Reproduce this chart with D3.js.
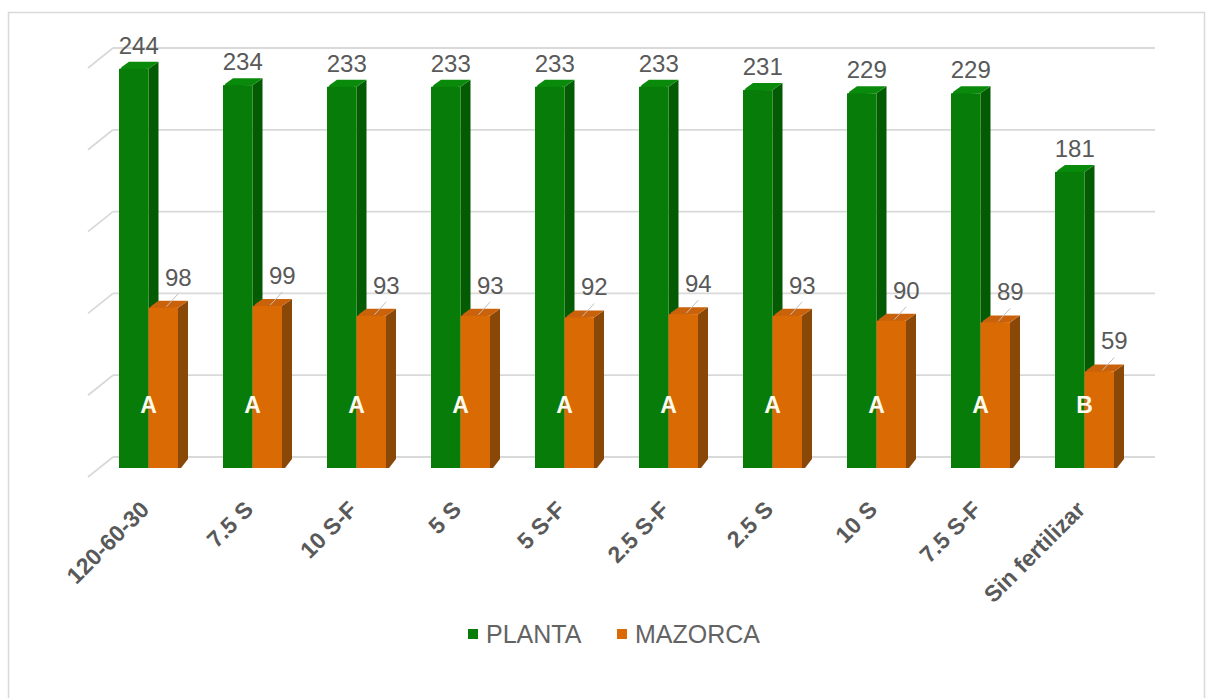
<!DOCTYPE html>
<html>
<head>
<meta charset="utf-8">
<script src="https://cdn.jsdelivr.net/npm/d3@7"></script>
<style>
  html, body { margin: 0; padding: 0; background: #fff; }
  svg { display: block; font-family: "Liberation Sans", Arial, sans-serif; }
</style>
</head>
<body>
<svg id="chart" width="1208" height="698"></svg>
<script>
// Treatments (x categories)
const categories = ["120-60-30", "7.5 S", "10 S-F", "5 S", "5 S-F", "2.5 S-F", "2.5 S", "10 S", "7.5 S-F", "Sin fertilizar"];
// Heights for the two series
const planta  = [244, 234, 233, 233, 233, 233, 231, 229, 229, 181];
const mazorca = [98, 99, 93, 93, 92, 94, 93, 90, 89, 59];
// Statistical grouping letters
const letters = ["A", "A", "A", "A", "A", "A", "A", "A", "A", "B"];
// Gridline values on the back wall
const gridTicks = [0, 50, 100, 150, 200, 250];
const seriesNames = ["PLANTA", "MAZORCA"];

const svg = d3.select("#chart");

// Outer chart frame
svg.append("rect")
  .attr("x", 8.5).attr("y", 12.5)
  .attr("width", 1196).attr("height", 700)
  .attr("fill", "#fff").attr("stroke", "#d9d9d9").attr("stroke-width", 1.5);

// Back-wall scale and front-plane offset for the pseudo-3D look
const y = d3.scaleLinear().domain([0, 250]).range([457, 48]);
const frontDy = 11;             // bars stand in front of the wall
const wallDx = 25, wallDy = 20; // side-wall depth
const x = d3.scaleBand().domain(categories).range([102, 1142]);
const barW = 29.5, barOff = 17;
const depthX = 10, depthY = 7;

// Gridlines and side-wall diagonals
const grid = svg.append("g");
gridTicks.forEach(t => {
  grid.append("line")
    .attr("x1", 113).attr("x2", 1155)
    .attr("y1", y(t)).attr("y2", y(t))
    .attr("stroke", "#d9d9d9").attr("stroke-width", 1.8);
  grid.append("line")
    .attr("x1", 113).attr("y1", y(t))
    .attr("x2", 113 - wallDx).attr("y2", y(t) + wallDy)
    .attr("stroke", "#d9d9d9").attr("stroke-width", 1.8);
});

const palette = {
  PLANTA:  { front: "#087c08", side: "#035c03", top: "#0a8a0a" },
  MAZORCA: { front: "#da6a04", side: "#8a4808", top: "#c9620a" }
};

function bar3d(g, x0, v, col) {
  const yb = y(0) + frontDy;
  const yt = y(v) + frontDy;
  const x1 = x0 + barW;
  // right side face
  g.append("path")
    .attr("d", `M${x1},${yt} L${x1 + depthX},${yt - depthY} L${x1 + depthX},${yb - depthY - 2} L${x1 + depthX - 7},${yb} L${x1},${yb} Z`)
    .attr("fill", col.side);
  // top face
  g.append("path")
    .attr("d", `M${x0},${yt + 2} L${x0 + 3},${yt - 2} L${x0 + depthX},${yt - depthY} L${x1 + depthX},${yt - depthY} L${x1},${yt} Z`)
    .attr("fill", col.top);
  // front face
  g.append("rect")
    .attr("x", x0).attr("y", yt)
    .attr("width", barW).attr("height", yb - yt)
    .attr("fill", col.front);
}

const bars = svg.append("g");
categories.forEach((c, i) => {
  const gx = x(c) + barOff;
  const g = bars.append("g");
  bar3d(g, gx, planta[i], palette.PLANTA);
  bar3d(g, gx + barW, mazorca[i], palette.MAZORCA);
});

// Value labels
const labels = svg.append("g")
  .attr("font-size", 24).attr("fill", "#595959").attr("text-anchor", "middle");
categories.forEach((c, i) => {
  const gx = x(c) + barOff;
  labels.append("text")
    .attr("x", gx + barW / 2 + 5)
    .attr("y", y(planta[i]) + frontDy - 15)
    .text(planta[i]);
  const ox = gx + barW + barW / 2;
  const oy = y(mazorca[i]) + frontDy;
  labels.append("line")
    .attr("x1", ox + 3).attr("y1", oy - 1)
    .attr("x2", ox + 15).attr("y2", oy - 14)
    .attr("stroke", "#bfbfbf").attr("stroke-width", 1);
  labels.append("text")
    .attr("x", ox + 15)
    .attr("y", oy - 22)
    .text(mazorca[i]);
});

// Grouping letters
const letterG = svg.append("g")
  .attr("font-size", 23).attr("font-weight", "bold").attr("fill", "#fffaf0")
  .attr("text-anchor", "middle");
categories.forEach((c, i) => {
  letterG.append("text")
    .attr("x", x(c) + barOff + barW)
    .attr("y", 413)
    .text(letters[i]);
});

// Category axis labels, rotated
const axisG = svg.append("g")
  .attr("font-size", 23).attr("font-weight", "bold").attr("fill", "#595959");
categories.forEach(c => {
  const ax = x(c) + barOff + barW + 2;
  axisG.append("text")
    .attr("transform", `translate(${ax},${511}) rotate(-45)`)
    .attr("text-anchor", "end")
    .text(c);
});

// Legend
const legend = svg.append("g").attr("font-size", 25).attr("fill", "#636363");
const legendX = [468, 617];
seriesNames.forEach((s, i) => {
  legend.append("rect")
    .attr("x", legendX[i]).attr("y", 629)
    .attr("width", 10).attr("height", 10)
    .attr("fill", palette[s].front);
  legend.append("text")
    .attr("x", legendX[i] + 18).attr("y", 643)
    .text(s);
});
</script>
</body>
</html>
